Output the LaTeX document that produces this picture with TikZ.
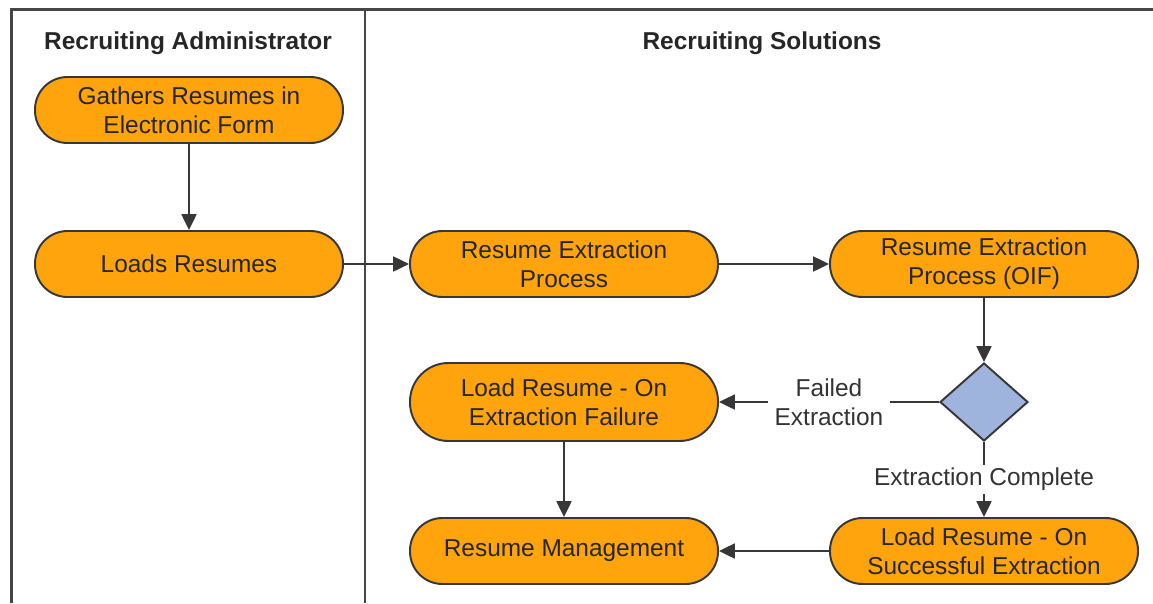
\documentclass[tikz,border=0pt]{standalone}
\usepackage{fontspec}
\setmainfont{Liberation Sans}
\usetikzlibrary{positioning, arrows.meta, shapes.geometric}

\definecolor{boxorange}{RGB}{255,164,12}
\definecolor{decblue}{RGB}{158,180,220}
\definecolor{edgegray}{RGB}{55,55,55}
\definecolor{framegray}{RGB}{70,70,70}

\begin{document}
\begin{tikzpicture}[>={Triangle[length=9pt,width=8.5pt]}, line width=1.1pt,
    procbox/.style={draw=edgegray, fill=boxorange, rounded corners=0.65cm,
        minimum width=6.16cm, minimum height=1.32cm, inner sep=0pt,
        align=center, text=black!85, font=\fontsize{13.9}{16.4}\selectfont},
    decision/.style={diamond, draw=edgegray, fill=decblue,
        minimum width=1.76cm, minimum height=1.56cm, inner sep=0pt},
    flow/.style={->, draw=edgegray},
    flowlabel/.style={fill=white, align=center, text=black!80,
        font=\fontsize{13.9}{16.4}\selectfont},
    lanetitle/.style={font=\bfseries\fontsize{13.9}{16}\selectfont, text=black!85}]

    % --- 参数 ---
    \def\laneX{7.30}  % 泳道分隔线
    \def\colA{3.78}
    \def\colB{11.28}
    \def\colC{19.68}

    \useasboundingbox (0,0) rectangle (23.06,-12.06);

    % --- 泳道框 ---
    \draw[framegray, line width=2pt] (23.06,-0.19) -- (0.23,-0.19) -- (0.23,-12.06);
    \draw[framegray, line width=1.6pt] (\laneX,-0.19) -- (\laneX,-12.06);
    \node[lanetitle] (adminTitle) at (3.76,-0.86) {Recruiting Administrator};
    \node[lanetitle] (solTitle) at (15.24,-0.86) {Recruiting Solutions};

    % --- 节点 ---
    \node[procbox] (gather) at (\colA,-2.20) {Gathers Resumes in\\Electronic Form};
    \node[procbox] (loads) at (\colA,-5.28) {Loads Resumes};
    \node[procbox] (extract) at (\colB,-5.28) {Resume Extraction\\Process};
    \node[procbox] (extractOIF) at (\colC,-5.28) {Resume Extraction\\Process (OIF)};
    \node[decision] (check) at (\colC,-8.04) {};
    \node[procbox, minimum height=1.56cm, rounded corners=0.77cm] (loadFail) at (\colB,-8.04) {Load Resume - On\\Extraction Failure};
    \node[procbox] (resMgmt) at (\colB,-11.02) {Resume Management};
    \node[procbox] (loadOK) at (\colC,-11.02) {Load Resume - On\\Successful Extraction};

    % --- 连线 ---
    \draw[flow] (gather) -- (loads);
    \draw[flow] (loads) -- (extract);
    \draw[flow] (extract) -- (extractOIF);
    \draw[flow] (extractOIF) -- (check);
    \draw[flow] (check) -- node[flowlabel, inner sep=4pt] {Failed\\Extraction} (loadFail);
    \draw[flow] (check) -- node[flowlabel, inner sep=2pt] {Extraction Complete} (loadOK);
    \draw[flow] (loadFail) -- (resMgmt);
    \draw[flow] (loadOK) -- (resMgmt);

\end{tikzpicture}
\end{document}
